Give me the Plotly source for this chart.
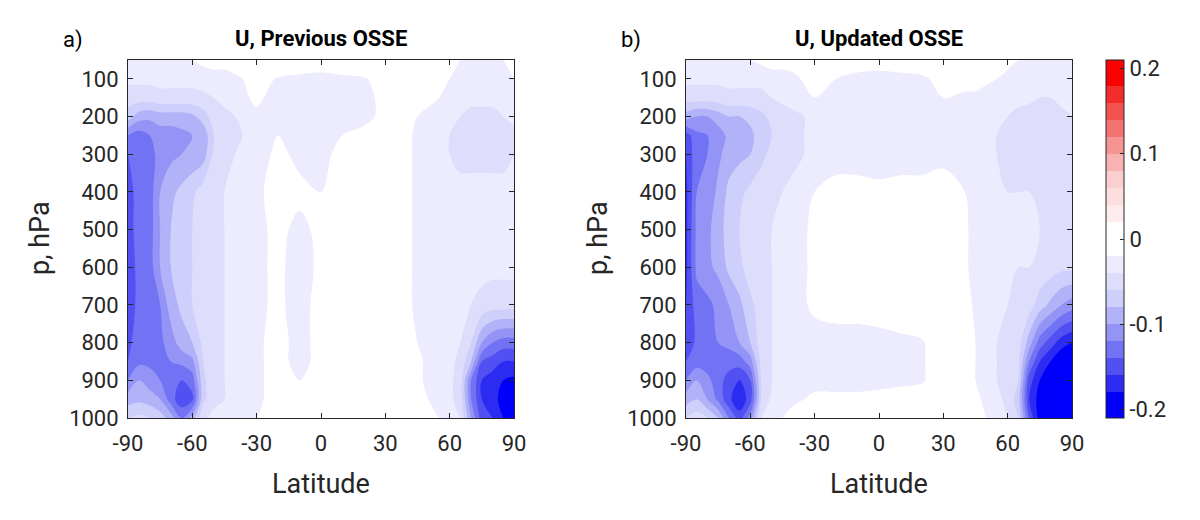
import plotly.graph_objects as go

# ---------------- data ----------------
latitudes = [-90, -85, -80, -75, -70, -65, -60, -55, -50, -45, -40, -30, -20, -10, 0,
             10, 20, 30, 40, 45, 50, 55, 60, 65, 70, 75, 80, 85, 90]
pressures = [50, 100, 150, 200, 250, 300, 400, 500, 600, 700, 800, 850, 900, 950, 1000]

u_previous = [
    [-.02, -.03, -.03, -.025, -.03, -.03, -.02, -.015, -.01, -.01, -.005, 0, 0, -.005, -.005, 0, 0, 0, 0, -.005, -.005, -.01, -.015, -.02, -.03, -.03, -.025, -.02, -.015],
    [-.035, -.035, -.035, -.035, -.035, -.035, -.035, -.03, -.03, -.03, -.025, -.01, -.022, -.025, -.028, -.025, -.022, -.01, -.005, -.01, -.01, -.015, -.02, -.025, -.03, -.035, -.03, -.03, -.02],
    [-.05, -.05, -.05, -.045, -.045, -.045, -.045, -.045, -.04, -.035, -.03, -.015, -.03, -.035, -.04, -.035, -.03, -.01, -.01, -.01, -.015, -.02, -.025, -.03, -.035, -.035, -.035, -.03, -.03],
    [-.07, -.09, -.095, -.09, -.09, -.09, -.085, -.07, -.05, -.045, -.04, -.025, -.03, -.035, -.035, -.03, -.025, -.015, -.015, -.02, -.025, -.03, -.035, -.04, -.045, -.045, -.045, -.04, -.035],
    [-.12, -.13, -.12, -.11, -.11, -.105, -.1, -.095, -.06, -.05, -.045, -.03, -.02, -.03, -.03, -.02, -.015, -.01, -.015, -.025, -.03, -.035, -.04, -.05, -.05, -.05, -.05, -.05, -.045],
    [-.14, -.135, -.13, -.11, -.105, -.1, -.095, -.09, -.055, -.05, -.04, -.03, -.015, -.025, -.025, -.015, -.015, -.01, -.015, -.025, -.03, -.035, -.04, -.045, -.045, -.045, -.045, -.045, -.04],
    [-.145, -.135, -.13, -.1, -.085, -.075, -.065, -.05, -.045, -.04, -.035, -.025, -.01, -.015, -.02, -.01, -.01, -.005, -.015, -.025, -.03, -.035, -.035, -.035, -.035, -.035, -.035, -.035, -.035],
    [-.145, -.135, -.13, -.1, -.08, -.07, -.06, -.05, -.045, -.04, -.035, -.025, -.015, -.025, -.015, -.01, -.005, -.005, -.015, -.025, -.03, -.035, -.035, -.035, -.035, -.035, -.035, -.035, -.035],
    [-.15, -.135, -.13, -.1, -.08, -.07, -.06, -.05, -.045, -.04, -.035, -.025, -.015, -.03, -.015, -.01, -.005, -.005, -.015, -.025, -.03, -.035, -.035, -.035, -.035, -.035, -.035, -.035, -.035],
    [-.15, -.135, -.13, -.12, -.09, -.075, -.06, -.05, -.045, -.04, -.035, -.025, -.015, -.03, -.01, -.005, -.005, -.005, -.015, -.025, -.03, -.035, -.035, -.035, -.04, -.045, -.05, -.05, -.05],
    [-.145, -.13, -.13, -.125, -.11, -.09, -.08, -.055, -.045, -.04, -.035, -.025, -.01, -.03, -.01, -.005, -.005, -.005, -.01, -.02, -.025, -.03, -.035, -.04, -.06, -.1, -.12, -.13, -.13],
    [-.14, -.125, -.125, -.125, -.12, -.115, -.105, -.06, -.045, -.04, -.035, -.025, -.01, -.03, -.01, -.005, -.005, -.005, -.01, -.015, -.025, -.03, -.035, -.045, -.08, -.14, -.15, -.16, -.16],
    [-.12, -.1, -.11, -.12, -.13, -.14, -.13, -.065, -.045, -.04, -.035, -.025, -.01, -.02, -.01, -.005, -.005, -.005, -.01, -.015, -.025, -.03, -.035, -.05, -.12, -.16, -.17, -.18, -.185],
    [-.09, -.085, -.09, -.1, -.13, -.155, -.145, -.065, -.045, -.04, -.035, -.025, -.01, -.015, -.01, -.005, -.005, -.005, -.01, -.015, -.02, -.025, -.035, -.05, -.12, -.16, -.17, -.19, -.195],
    [-.06, -.055, -.06, -.07, -.09, -.12, -.09, -.045, -.035, -.03, -.03, -.02, -.01, -.01, -.01, -.005, -.005, -.005, -.01, -.01, -.015, -.02, -.03, -.04, -.1, -.15, -.16, -.18, -.19],
]

u_updated = [
    [-.025, -.03, -.03, -.03, -.03, -.025, -.02, -.015, -.01, -.01, -.01, -.005, 0, 0, 0, 0, 0, 0, 0, 0, -.005, -.01, -.015, -.02, -.025, -.03, -.03, -.025, -.02],
    [-.035, -.035, -.035, -.035, -.035, -.035, -.035, -.035, -.03, -.03, -.025, -.01, -.02, -.03, -.035, -.03, -.025, -.01, -.01, -.01, -.015, -.02, -.025, -.03, -.03, -.035, -.035, -.03, -.03],
    [-.05, -.05, -.05, -.05, -.045, -.045, -.045, -.045, -.04, -.035, -.03, -.02, -.03, -.035, -.035, -.03, -.025, -.02, -.025, -.025, -.03, -.03, -.035, -.035, -.035, -.04, -.04, -.035, -.035],
    [-.09, -.1, -.1, -.09, -.08, -.08, -.075, -.065, -.055, -.05, -.045, -.035, -.035, -.035, -.035, -.035, -.03, -.03, -.035, -.035, -.035, -.035, -.04, -.045, -.05, -.05, -.05, -.045, -.04],
    [-.15, -.125, -.12, -.11, -.095, -.09, -.085, -.07, -.06, -.05, -.045, -.035, -.035, -.035, -.035, -.035, -.03, -.03, -.035, -.035, -.035, -.04, -.045, -.05, -.05, -.055, -.055, -.05, -.045],
    [-.16, -.125, -.12, -.105, -.09, -.085, -.08, -.065, -.055, -.05, -.045, -.035, -.03, -.03, -.03, -.03, -.03, -.025, -.035, -.035, -.035, -.04, -.045, -.05, -.05, -.055, -.055, -.05, -.045],
    [-.165, -.12, -.115, -.095, -.075, -.065, -.055, -.05, -.045, -.04, -.035, -.02, -.012, -.012, -.015, -.012, -.012, -.012, -.02, -.03, -.035, -.04, -.04, -.04, -.04, -.045, -.045, -.045, -.04],
    [-.165, -.115, -.105, -.09, -.07, -.06, -.05, -.045, -.04, -.035, -.03, -.015, -.005, -.005, -.005, -.005, -.005, -.005, -.015, -.03, -.035, -.04, -.04, -.04, -.04, -.04, -.045, -.045, -.04],
    [-.165, -.115, -.105, -.095, -.075, -.065, -.05, -.045, -.04, -.035, -.03, -.015, -.005, -.005, -.005, -.005, -.005, -.005, -.015, -.03, -.035, -.04, -.04, -.04, -.04, -.045, -.05, -.055, -.055],
    [-.16, -.13, -.125, -.115, -.1, -.085, -.065, -.05, -.04, -.035, -.03, -.015, -.01, -.01, -.005, -.005, -.005, -.005, -.01, -.025, -.035, -.04, -.04, -.045, -.05, -.07, -.085, -.1, -.11],
    [-.155, -.135, -.13, -.12, -.115, -.1, -.08, -.05, -.04, -.035, -.035, -.03, -.03, -.03, -.03, -.025, -.022, -.008, -.005, -.02, -.035, -.04, -.045, -.05, -.09, -.13, -.15, -.17, -.18],
    [-.14, -.13, -.13, -.125, -.13, -.13, -.11, -.055, -.04, -.035, -.035, -.03, -.03, -.03, -.03, -.025, -.022, -.008, -.005, -.02, -.035, -.04, -.045, -.055, -.12, -.16, -.18, -.2, -.205],
    [-.12, -.1, -.115, -.13, -.15, -.16, -.14, -.06, -.04, -.035, -.03, -.028, -.028, -.028, -.025, -.025, -.022, -.008, -.005, -.02, -.03, -.04, -.045, -.06, -.15, -.18, -.19, -.205, -.21],
    [-.09, -.08, -.1, -.125, -.155, -.175, -.15, -.06, -.035, -.03, -.025, -.015, -.015, -.015, -.015, -.01, -.01, -.005, -.005, -.015, -.025, -.035, -.045, -.07, -.16, -.19, -.2, -.21, -.21],
    [-.06, -.05, -.06, -.08, -.12, -.15, -.11, -.04, -.025, -.02, -.01, -.01, -.01, -.01, -.01, -.005, -.005, -.005, -.005, -.01, -.02, -.03, -.04, -.06, -.14, -.19, -.2, -.21, -.21],
]

lat_ticks = [-90, -60, -30, 0, 30, 60, 90]
lat_ticklabels = ["-90", "-60", "-30", "0", "30", "60", "90"]
p_ticks = [100, 200, 300, 400, 500, 600, 700, 800, 900, 1000]
cbar_ticks = [-0.2, -0.1, 0, 0.1, 0.2]
cbar_ticklabels = ["-0.2", "-0.1", "0", "0.1", "0.2"]
panel_titles = ["U, Previous OSSE", "U, Updated OSSE"]
panel_letters = ["a)", "b)"]

# ---------------- colours (band colours, blue -> white -> red) ----------------
band_colors = [
    "#0000ff",  # below -0.2
    "#0000fa", "#2b2bf2", "#5050f3", "#7272f4", "#9494f6",
    "#b2b2f8", "#cfcffb", "#dedefc", "#ececfe",
    "#ffffff", "#ffffff",
    "#feecec", "#fcdede", "#fbcfcf", "#f8b2b2", "#f69494",
    "#f47272", "#f35050", "#f22b2b", "#fa0000",
    "#ff0000",  # above 0.2
]
n = len(band_colors) - 1
colorscale = [[i / n, c] for i, c in enumerate(band_colors)]

FONT = "Roboto"
INK = "#262626"
W, H = 1200, 520
OX, OY = 8, 8  # page body margin offset


def px_x(x):
    return (x - OX) / W


def px_y(y):
    return (H - (y - OY)) / H


x_doms = [[px_x(128), px_x(514)], [px_x(686), px_x(1072)]]
y_dom = [px_y(418), px_y(60)]

fig = go.Figure()
for k, z in enumerate([u_previous, u_updated]):
    fig.add_trace(go.Contour(
        x=latitudes, y=pressures, z=z,
        xaxis="x" if k == 0 else "x2",
        yaxis="y" if k == 0 else "y2",
        colorscale=colorscale,
        contours=dict(start=-0.2, end=0.2, size=0.02, coloring="fill", showlines=False),
        line=dict(width=0),
        showscale=(k == 1),
        colorbar=dict(
            x=px_x(1106), xanchor="left", xpad=0,
            y=y_dom[0], yanchor="bottom", ypad=0,
            len=y_dom[1] - y_dom[0], lenmode="fraction",
            thickness=18,
            outlinecolor=INK, outlinewidth=1,
            tickvals=cbar_ticks, ticktext=cbar_ticklabels,
            ticks="inside", ticklen=4, tickcolor=INK,
            tickfont=dict(family=FONT, size=22, color=INK),
        ),
        hoverinfo="skip",
    ))

axis_common = dict(
    showline=True, linecolor=INK, linewidth=1, mirror="ticks",
    ticks="inside", ticklen=5, tickcolor=INK, showgrid=False, zeroline=False,
    tickfont=dict(family=FONT, size=22, color=INK),
)

fig.update_layout(
    width=W, height=H,
    margin=dict(l=0, r=0, t=0, b=0, autoexpand=False),
    paper_bgcolor="white", plot_bgcolor="white",
    font=dict(family=FONT, color=INK),
    xaxis=dict(domain=x_doms[0], range=[-90, 90], tickvals=lat_ticks, ticktext=lat_ticklabels,
               anchor="y", ticklabelstandoff=6, **axis_common),
    yaxis=dict(domain=y_dom, range=[1000, 50], tickvals=p_ticks, anchor="x",
               ticklabelstandoff=4, **axis_common),
    xaxis2=dict(domain=x_doms[1], range=[-90, 90], tickvals=lat_ticks, ticktext=lat_ticklabels,
                anchor="y2", ticklabelstandoff=6, **axis_common),
    yaxis2=dict(domain=y_dom, range=[1000, 50], tickvals=p_ticks, anchor="x2",
                ticklabelstandoff=4, **axis_common),
)

centers = [(128 + 514) / 2, (686 + 1072) / 2]
lefts = [128, 686]
annotations = []
for k in range(2):
    common = dict(xref="paper", yref="paper", showarrow=False, xanchor="center", yanchor="middle")
    annotations.append(dict(text="<b>" + panel_titles[k] + "</b>", x=px_x(centers[k]), y=px_y(38),
                            font=dict(family=FONT, size=22, color="black"), **common))
    annotations.append(dict(text=panel_letters[k], x=px_x(lefts[k] - 55), y=px_y(40),
                            font=dict(family=FONT, size=22, color="black"), **common))
    annotations.append(dict(text="Latitude", x=px_x(centers[k]), y=px_y(484),
                            font=dict(family=FONT, size=27, color=INK), **common))
    annotations.append(dict(text="p, hPa", x=px_x(lefts[k] - 88), y=px_y(238), textangle=-90,
                            font=dict(family=FONT, size=27, color=INK), **common))
fig.update_layout(annotations=annotations)

fig.write_html("out.html")
